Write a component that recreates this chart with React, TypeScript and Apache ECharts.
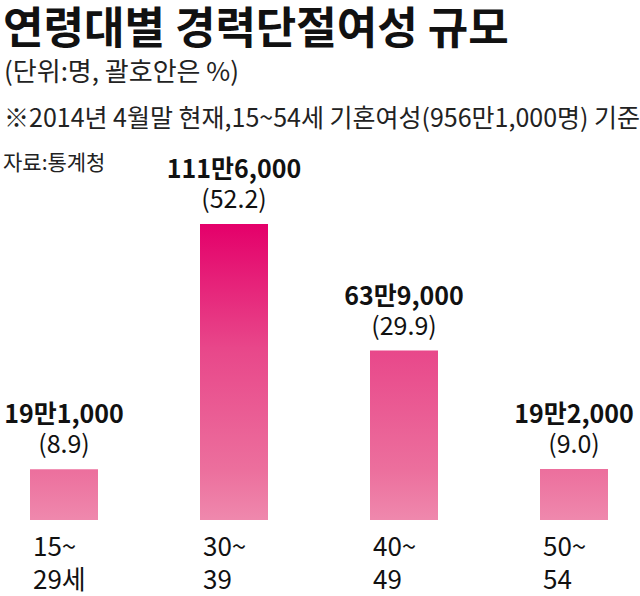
import React, { useEffect, useRef } from "react";
import * as echarts from "echarts";

const titleText = "연령대별 경력단절여성 규모";
const unitText = "(단위:명, 괄호안은 %)";
const noteText = "※2014년 4월말 현재,15~54세 기혼여성(956만1,000명) 기준";
const sourceText = "자료:통계청";

const categories = ["15~\n29세", "30~\n39", "40~\n49", "50~\n54"];
const counts = [191000, 1116000, 639000, 192000];
const percents = [8.9, 52.2, 29.9, 9.0];

const FONT = "'Noto Sans CJK KR', 'Noto Sans', sans-serif";
const SHIFT = 21;

function fmtCount(v: number): string {
  const man = Math.floor(v / 10000);
  const rest = v % 10000;
  return man + "만" + rest.toLocaleString("en-US");
}

export default function App() {
  const ref = useRef<HTMLDivElement>(null);
  useEffect(() => {
    document.body.style.margin = "0";
    if (!ref.current) return;
    const chart = echarts.init(ref.current, null, { renderer: "svg" });
    chart.setOption({
      animation: false,
      backgroundColor: "#ffffff",
      textStyle: { fontFamily: FONT },
      title: [
        {
          text: titleText,
          left: SHIFT + 3,
          top: 3,
          padding: 0,
          textStyle: { fontFamily: FONT, fontSize: 44, fontWeight: "bold", color: "#111" },
        },
        {
          text: unitText,
          left: SHIFT + 4,
          top: 56,
          padding: 0,
          textStyle: { fontFamily: FONT, fontSize: 26, fontWeight: "normal", color: "#222" },
        },
        {
          text: noteText,
          left: SHIFT + 4,
          top: 103,
          padding: 0,
          textStyle: { fontFamily: FONT, fontSize: 25, fontWeight: "normal", color: "#222" },
        },
        {
          text: sourceText,
          left: SHIFT + 3,
          top: 150,
          padding: 0,
          textStyle: { fontFamily: FONT, fontSize: 21, fontWeight: "normal", color: "#222" },
        },
      ],
      grid: { left: 0, right: 0, top: 224, height: 296, containLabel: false },
      xAxis: {
        type: "category",
        data: categories,
        axisLine: { show: false },
        axisTick: { show: false },
        axisLabel: {
          margin: 8,
          align: "center",
          formatter: (val: string) =>
            val
              .split("\n")
              .map((s) => "{a|" + s + "}")
              .join("\n"),
          rich: {
            a: {
              width: 62,
              align: "left",
              fontSize: 26,
              lineHeight: 33,
              color: "#111",
              fontFamily: FONT,
            },
          },
        },
      },
      yAxis: {
        type: "value",
        min: 0,
        max: 1116000,
        show: false,
        splitLine: { show: false },
      },
      series: [
        {
          type: "bar",
          barWidth: 68,
          data: counts,
          itemStyle: {
            color: {
              type: "linear",
              x: 0,
              y: 224,
              x2: 0,
              y2: 520,
              global: true,
              colorStops: [
                { offset: 0, color: "#e4006a" },
                { offset: 0.42, color: "#e8478a" },
                { offset: 0.83, color: "#ec6f9d" },
                { offset: 1, color: "#ef88ad" },
              ],
            },
          },
          label: {
            show: true,
            position: "top",
            distance: 12,
            formatter: (p: any) =>
              "{v|" + fmtCount(counts[p.dataIndex]) + "}\n{p|(" + percents[p.dataIndex].toFixed(1) + ")}",
            rich: {
              v: { fontSize: 25, fontWeight: "bold", lineHeight: 30, color: "#111", fontFamily: FONT },
              p: { fontSize: 25, lineHeight: 30, color: "#111", fontFamily: FONT },
            },
          },
        },
      ],
    });
    return () => chart.dispose();
  }, []);
  return (
    <div style={{ width: 640, height: 596, overflow: "hidden", position: "relative" }}>
      <div ref={ref} style={{ width: 680, height: 596, position: "absolute", left: -SHIFT, top: 0 }} />
    </div>
  );
}
